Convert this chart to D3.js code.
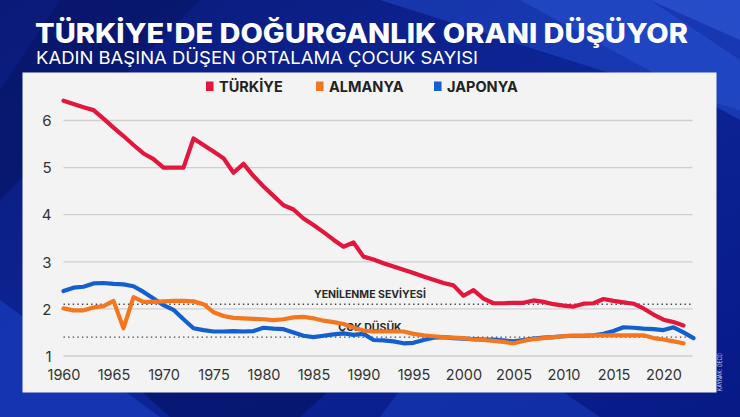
<!DOCTYPE html>
<html><head><meta charset="utf-8">
<script src="https://cdn.jsdelivr.net/npm/d3@7"></script>
<style>html,body{margin:0;padding:0;background:#0a1c80;}svg{display:block;}</style>
</head><body>
<svg id="chart" width="740" height="417"></svg>
<script>
const title = "TÜRKİYE'DE DOĞURGANLIK ORANI DÜŞÜYOR";
const subtitle = "KADIN BAŞINA DÜŞEN ORTALAMA ÇOCUK SAYISI";
const seriesNames = ["TÜRKİYE", "ALMANYA", "JAPONYA"];
const seriesColors = ["#e3173e", "#f4771f", "#145fcf"];
const yearsTR = d3.range(1960, 2023);
const yearsDE = d3.range(1960, 2023);
const yearsJP = d3.range(1960, 2024);
const turkiye = [6.42,6.35,6.28,6.22,6.04,5.85,5.67,5.48,5.30,5.18,5.00,5.00,5.00,5.62,5.48,5.34,5.20,4.89,5.08,4.82,4.60,4.40,4.20,4.11,3.92,3.78,3.63,3.47,3.32,3.41,3.11,3.05,2.97,2.90,2.83,2.76,2.69,2.62,2.55,2.50,2.28,2.40,2.22,2.12,2.12,2.13,2.13,2.18,2.15,2.10,2.07,2.05,2.11,2.12,2.21,2.17,2.14,2.11,2.01,1.88,1.77,1.72,1.65];
const almanya = [2.01,1.97,1.97,2.03,2.06,2.17,1.59,2.25,2.15,2.15,2.16,2.17,2.17,2.16,2.10,1.93,1.85,1.81,1.80,1.79,1.78,1.76,1.78,1.82,1.83,1.80,1.75,1.72,1.68,1.60,1.54,1.52,1.52,1.52,1.52,1.47,1.44,1.42,1.40,1.39,1.38,1.35,1.34,1.32,1.30,1.27,1.32,1.36,1.38,1.40,1.42,1.43,1.43,1.44,1.44,1.44,1.44,1.44,1.44,1.38,1.35,1.31,1.27];
const japonya = [2.38,2.45,2.47,2.54,2.55,2.53,2.52,2.48,2.36,2.22,2.08,1.98,1.78,1.59,1.55,1.52,1.52,1.53,1.52,1.53,1.60,1.58,1.57,1.50,1.43,1.40,1.43,1.46,1.48,1.45,1.47,1.34,1.33,1.31,1.27,1.28,1.34,1.39,1.40,1.38,1.37,1.36,1.35,1.35,1.33,1.31,1.34,1.37,1.39,1.40,1.42,1.43,1.43,1.44,1.47,1.53,1.61,1.60,1.58,1.57,1.55,1.61,1.50,1.38];
const yTicks = [1,2,3,4,5,6];
const xTicks = [1960,1965,1970,1975,1980,1985,1990,1995,2000,2005,2010,2015,2020];
const refLines = [{label:"YENİLENME SEVİYESİ", value:2.1}, {label:"ÇOK DÜŞÜK", value:1.4}];
const source = "KAYNAK: OECD";

const svg = d3.select("#chart");
const W = 740, H = 417;

// background
const defs = svg.append("defs");
const bg = defs.append("linearGradient").attr("id","bg").attr("x1","0").attr("y1","0").attr("x2","1").attr("y2","1");
bg.append("stop").attr("offset","0").attr("stop-color","#0a1a78");
bg.append("stop").attr("offset","0.5").attr("stop-color","#0d2597");
bg.append("stop").attr("offset","1").attr("stop-color","#071a86");
svg.append("rect").attr("width",W).attr("height",H).attr("fill","url(#bg)");
const shapes = [
  {pts:[[380,0],[740,0],[740,110],[600,70]], c:"#2149c9", o:0.55},
  {pts:[[520,0],[650,0],[740,60],[740,120]], c:"#2a56d8", o:0.45},
  {pts:[[0,90],[60,0],[200,0],[0,200]], c:"#06125e", o:0.5},
  {pts:[[0,300],[160,417],[0,417]], c:"#1a3fc4", o:0.6},
  {pts:[[140,390],[330,390],[300,417],[170,417]], c:"#03105a", o:0.55},
  {pts:[[400,390],[560,390],[600,417],[380,417]], c:"#1c44c8", o:0.45},
  {pts:[[650,0],[740,0],[740,40]], c:"#3560e0", o:0.5}
];
svg.selectAll("polygon.bgs").data(shapes).join("polygon")
  .attr("points", d => d.pts.map(p => p.join(",")).join(" "))
  .attr("fill", d => d.c).attr("opacity", d => d.o);

// titles
svg.append("text").text(title).attr("x",35).attr("y",43)
  .attr("fill","#fff").attr("font-family","Inter, Lato, sans-serif").attr("font-weight",800)
  .attr("font-size",27).attr("textLength",653).attr("lengthAdjust","spacingAndGlyphs");
svg.append("text").text(subtitle).attr("x",36).attr("y",64)
  .attr("fill","#fff").attr("font-family","Inter, Lato, sans-serif").attr("font-weight",400)
  .attr("font-size",17).attr("textLength",442).attr("lengthAdjust","spacingAndGlyphs");

// panel
svg.append("rect").attr("x",22.5).attr("y",72.5).attr("width",694).attr("height",320).attr("fill","#f3f3f3");

// legend
const legendX = [206, 316, 434];
const legend = svg.append("g");
seriesNames.forEach((n,i) => {
  legend.append("rect").attr("x",legendX[i]).attr("y",81.5).attr("width",7.5).attr("height",9.5).attr("fill",seriesColors[i]);
  legend.append("text").text(n).attr("x",legendX[i]+13).attr("y",91.5)
    .attr("font-family","Inter, Lato, sans-serif").attr("font-weight",700).attr("font-size",14.5).attr("fill","#222");
});

// scales
const x = d3.scaleLinear().domain([1960, 2023]).range([63.5, 693.5]);
const y = d3.scaleLinear().domain([1, 6]).range([356, 120.5]);

// grid
const grid = svg.append("g");
grid.selectAll("line").data(yTicks).join("line")
  .attr("x1", x(1960)).attr("x2", x(2023)-1)
  .attr("y1", d => y(d)).attr("y2", d => y(d))
  .attr("stroke","#cfcfcf").attr("stroke-width",1.3);

// axes
const yAxis = svg.append("g").attr("transform",`translate(${x(1960)-12},0)`)
  .call(d3.axisLeft(y).tickValues(yTicks).tickSize(0).tickPadding(0).tickFormat(d3.format("d")));
yAxis.select(".domain").remove();
yAxis.selectAll("text").attr("font-family","Inter, Lato, sans-serif").attr("font-size",15).attr("fill","#333").attr("dy","0.35em");
const xAxis = svg.append("g").attr("transform",`translate(0,366)`)
  .call(d3.axisBottom(x).tickValues(xTicks).tickSize(0).tickPadding(0).tickFormat(d3.format("d")));
xAxis.select(".domain").remove();
xAxis.selectAll("text").attr("font-family","Inter, Lato, sans-serif").attr("font-size",14.5).attr("fill","#333").attr("dy","0.95em");

// reference lines
const refs = svg.append("g");
refLines.forEach(r => {
  refs.append("line").attr("x1",x(1960)).attr("x2",x(2023)-1).attr("y1",y(r.value)).attr("y2",y(r.value))
    .attr("stroke","#444").attr("stroke-width",1.4).attr("stroke-dasharray","1.4,3.2");
  refs.append("text").text(r.label).attr("x",370).attr("y",y(r.value)-6)
    .attr("text-anchor","middle").attr("font-family","Inter, Lato, sans-serif").attr("font-weight",700)
    .attr("font-size",10.5).attr("fill","#2a2a2a");
});

// lines
const line = d3.line().x(d => x(d[0])).y(d => y(d[1])).curve(d3.curveLinear);
const series = [
  {name:seriesNames[2], color:seriesColors[2], data:d3.zip(yearsJP, japonya)},
  {name:seriesNames[1], color:seriesColors[1], data:d3.zip(yearsDE, almanya)},
  {name:seriesNames[0], color:seriesColors[0], data:d3.zip(yearsTR, turkiye)}
];
svg.append("g").selectAll("path").data(series).join("path")
  .attr("d", d => line(d.data)).attr("fill","none").attr("stroke", d => d.color)
  .attr("stroke-width",4.2).attr("stroke-linejoin","round").attr("stroke-linecap","round");

// source
svg.append("text").text(source).attr("transform","translate(722,391) rotate(-90)")
  .attr("font-family","Inter, Lato, sans-serif").attr("font-size",5.5).attr("fill","#c8d2f5")
  .attr("textLength",38).attr("lengthAdjust","spacingAndGlyphs");
</script>
</body></html>
